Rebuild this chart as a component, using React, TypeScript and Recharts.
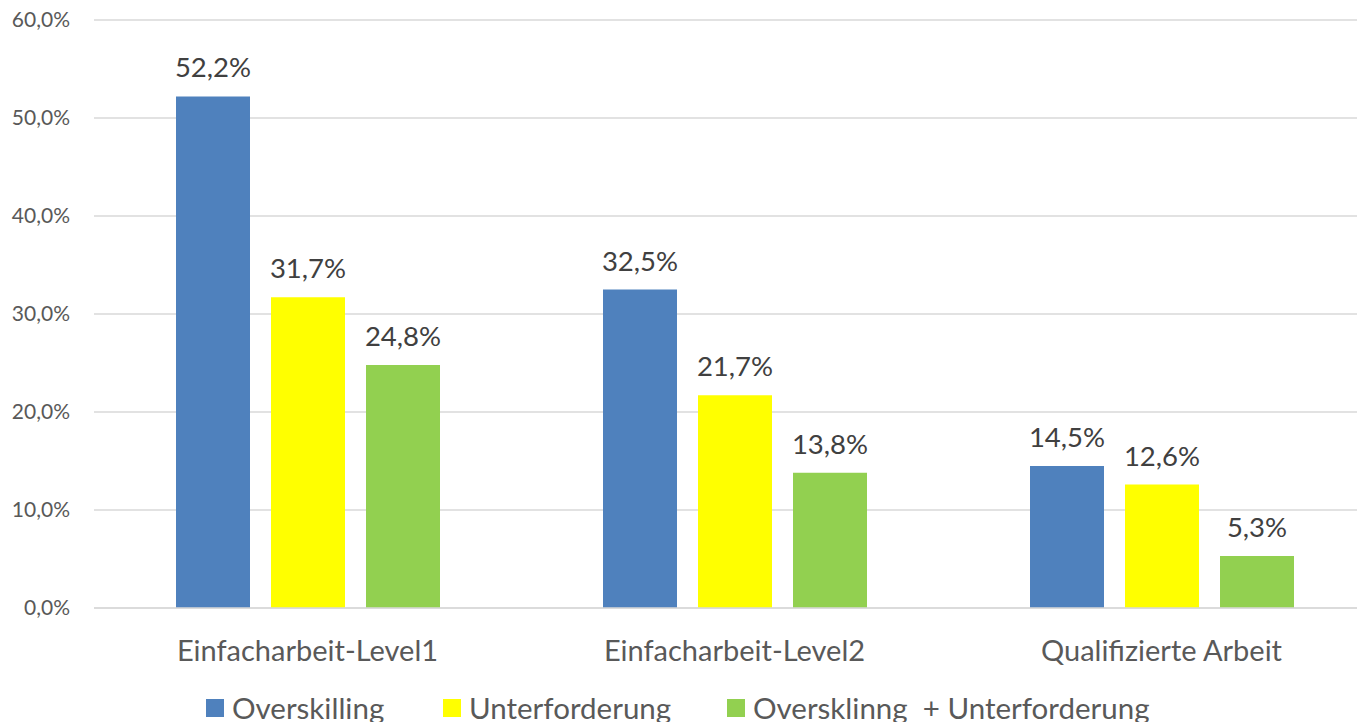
import React from 'react';
import { BarChart, Bar, XAxis, YAxis, CartesianGrid, LabelList } from 'recharts';

const categories = ['Einfacharbeit-Level1', 'Einfacharbeit-Level2', 'Qualifizierte Arbeit'];
const overskilling = [52.2, 32.5, 14.5];
const unterforderung = [31.7, 21.7, 12.6];
const kombiniert = [24.8, 13.8, 5.3];
const yTicks = [0, 10, 20, 30, 40, 50, 60];

const seriesNames = ['Overskilling', 'Unterforderung', 'Oversklinng  + Unterforderung'];
const seriesColors = ['#4F81BD', '#FFFF00', '#92D050'];
const legendLefts = [206, 443, 727];

const data = categories.map((name, i) => ({
  name,
  a: overskilling[i],
  b: unterforderung[i],
  c: kombiniert[i],
}));

const FONT = 'Lato, "Noto Sans", sans-serif';
const TEXT = '#595959';

const pct = (v: any) => Number(v).toFixed(1).replace('.', ',') + '%';

export default function App() {
  const keys = ['a', 'b', 'c'];
  return (
    <div
      style={{
        position: 'absolute',
        left: 0,
        top: 0,
        width: 1357,
        height: 722,
        overflow: 'hidden',
        background: '#fff',
        fontFamily: FONT,
      }}
    >
      <BarChart
        width={1375}
        height={722}
        data={data}
        margin={{ top: 20, right: 0, left: 0, bottom: 64 }}
        barSize={74}
        barGap={21}
      >
        <CartesianGrid vertical={false} stroke="#D9D9D9" strokeWidth={1.3} />
        <XAxis
          dataKey="name"
          height={50}
          axisLine={{ stroke: '#D9D9D9', strokeWidth: 1.5 }}
          tickLine={false}
          tickSize={0}
          tickMargin={32}
          tick={{ fill: TEXT, fontSize: 29, fontFamily: FONT }}
          interval={0}
        />
        <YAxis
          width={94}
          domain={[0, 60]}
          ticks={yTicks}
          axisLine={false}
          tickLine={false}
          tickSize={0}
          tickMargin={24}
          tickFormatter={pct}
          tick={{ fill: TEXT, fontSize: 21, fontFamily: FONT }}
        />
        {keys.map((k, i) => (
          <Bar key={k} dataKey={k} name={seriesNames[i]} fill={seriesColors[i]} isAnimationActive={false}>
            <LabelList
              dataKey={k}
              position="top"
              offset={19}
              formatter={pct}
              style={{ fill: '#404040', fontSize: 27.5, fontFamily: FONT }}
            />
          </Bar>
        ))}
      </BarChart>
      {seriesNames.map((n, i) => (
        <div
          key={n}
          style={{
            position: 'absolute',
            left: legendLefts[i],
            top: 692,
            display: 'flex',
            alignItems: 'center',
            whiteSpace: 'pre',
            color: TEXT,
            fontSize: 29.5,
            lineHeight: '32px',
          }}
        >
          <span
            style={{ display: 'inline-block', width: 18, height: 18, background: seriesColors[i], marginRight: 8 }}
          />
          <span>{n}</span>
        </div>
      ))}
    </div>
  );
}
